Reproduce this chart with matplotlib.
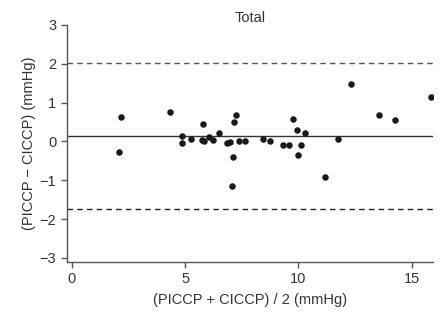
import matplotlib
matplotlib.use("Agg")
import matplotlib.pyplot as plt

plt.rcParams['font.family'] = ['Liberation Sans', 'DejaVu Sans']

mean_x = [2.17, 2.09, 4.32, 4.88, 4.88, 5.26, 5.81, 5.75, 5.85, 6.06, 6.25, 6.48,
          6.87, 7.00, 7.26, 7.16, 7.13, 7.07, 7.37, 7.64,
          8.42, 8.75, 9.31, 9.59, 9.75, 9.94, 10.10, 9.98, 10.28, 11.17, 11.75,
          12.32, 13.56, 14.25, 15.84]
diff_y = [0.64, -0.27, 0.75, 0.13, -0.03, 0.07, 0.44, 0.04, 0.00, 0.11, 0.03, 0.21,
          -0.05, -0.02, 0.67, 0.51, -0.41, -1.15, 0.00, 0.00,
          0.07, 0.02, -0.10, -0.10, 0.58, 0.30, -0.09, -0.36, 0.21, -0.92, 0.06,
          1.47, 0.67, 0.55, 1.15]
bias = 0.14
upper_loa = 2.02
lower_loa = -1.74
x_ticks = [0, 5, 10, 15]
y_ticks = [-3, -2, -1, 0, 1, 2, 3]

fig = plt.figure(figsize=(4.48, 3.15), dpi=100)
ax = fig.add_axes([0.149, 0.169, 0.818, 0.752])

ax.axhline(bias, color='#333333', lw=1.0, zorder=1)
ax.axhline(upper_loa, color='#555555', lw=1.0, ls=(0, (4, 3)), zorder=1)
ax.axhline(lower_loa, color='#222222', lw=1.0, ls=(0, (4, 3)), zorder=1)
ax.scatter(mean_x, diff_y, s=22, color='#1a1a1a', zorder=3, linewidths=0)

ax.set_xlim(-0.22, 15.95)
ax.set_ylim(-3.1, 3.0)
ax.set_xticks(x_ticks)
ax.set_yticks(y_ticks)
ax.set_yticklabels(['\u22123', '\u22122', '\u22121', '0', '1', '2', '3'])

for s in ['top', 'right']:
    ax.spines[s].set_visible(False)
for s in ['left', 'bottom']:
    ax.spines[s].set_color('#555555')
    ax.spines[s].set_linewidth(1.0)
ax.tick_params(direction='out', length=4, width=1, colors='#555555',
               labelcolor='#333333', labelsize=10.5)

ax.set_xlabel('(PICCP + CICCP) / 2 (mmHg)', fontsize=10.5, color='#333333', labelpad=5)
ax.set_ylabel('(PICCP \u2212 CICCP) (mmHg)', fontsize=10.5, color='#333333', labelpad=3)
ax.set_title('Total', fontsize=10.5, color='#333333', pad=1)

fig.savefig('out.png', dpi=100)
